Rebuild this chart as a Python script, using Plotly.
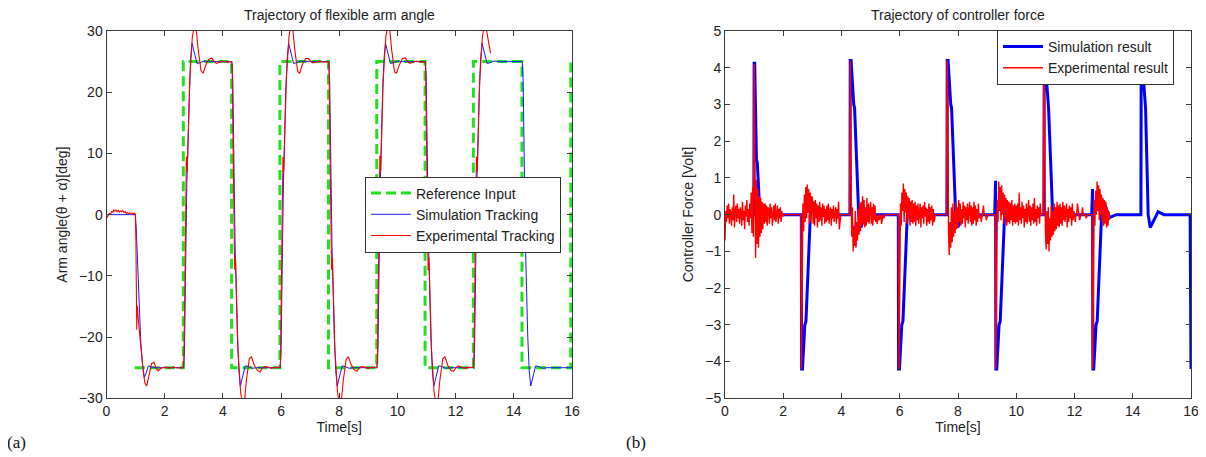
import plotly.graph_objects as go

# ---------------- LEFT PANEL: flexible arm angle [deg] ----------------
ref_time = [0.97, 2.64, 4.30, 5.96, 7.63, 9.29, 10.95, 12.61, 14.28, 15.96, 16.0]
ref_angle = [-25, 25, -25, 25, -25, 25, -25, 25, -25, 25, 25]

sim_time = [0.00, 0.99, 1.02, 1.10, 1.18, 1.24, 1.30, 1.37, 1.44, 1.55, 1.70,
            2.65, 2.68, 2.76, 2.84, 2.89, 2.94, 3.03, 3.11, 3.21, 3.35, 3.50,
            4.31, 4.34, 4.42, 4.50, 4.55, 4.60, 4.69, 4.77, 4.87, 5.01, 5.16,
            5.97, 6.00, 6.08, 6.16, 6.21, 6.26, 6.35, 6.43, 6.53, 6.67, 6.82,
            7.64, 7.67, 7.75, 7.83, 7.88, 7.93, 8.02, 8.10, 8.20, 8.34, 8.49,
            9.30, 9.33, 9.41, 9.49, 9.54, 9.59, 9.68, 9.76, 9.86, 10.00, 10.15,
            10.96, 10.99, 11.07, 11.15, 11.20, 11.25, 11.34, 11.42, 11.52, 11.66, 11.81,
            12.62, 12.65, 12.73, 12.81, 12.86, 12.91, 13.00, 13.08, 13.18, 13.32, 13.47,
            14.29, 14.32, 14.40, 14.48, 14.53, 14.58, 14.67, 14.75, 14.85, 14.99, 15.14,
            16.00]
sim_angle = [0.0, 0.0, -2.0, -13.0, -21.0, -24.5, -26.6, -25.8, -24.7, -24.9, -25.0,
             -25, -22, 5, 20, 25.5, 28, 26, 24.7, 24.8, 25.1, 25,
             25, 22, -5, -20, -25.5, -28, -26, -24.7, -24.8, -25.1, -25,
             -25, -22, 5, 20, 25.5, 28, 26, 24.7, 24.8, 25.1, 25,
             25, 22, -5, -20, -25.5, -28, -26, -24.7, -24.8, -25.1, -25,
             -25, -22, 5, 20, 25.5, 28, 26, 24.7, 24.8, 25.1, 25,
             25, 22, -5, -20, -25.5, -28, -26, -24.7, -24.8, -25.1, -25,
             -25, -22, 5, 20, 25.5, 28, 26, 24.7, 24.8, 25.1, 25,
             25, 22, -5, -20, -25.5, -28, -26, -24.7, -24.8, -25.1, -25,
             -25]

exp_time = [0.00, 0.03, 0.06, 0.10, 0.14, 0.18, 0.22, 0.25, 0.28, 0.32, 0.36, 0.40, 0.44,
            0.48, 0.52, 0.56, 0.60, 0.64, 0.68, 0.72, 0.76, 0.80, 0.84, 0.88, 0.92, 0.96, 0.99,
            1.01, 1.04, 1.05, 1.055, 1.06, 1.065, 1.07, 1.08, 1.10, 1.18, 1.26, 1.32, 1.38,
            1.45, 1.55, 1.63, 1.72, 1.78, 1.88, 2.00, 2.15, 2.30, 2.45, 2.63,
            2.66, 2.70, 2.74, 2.745, 2.75, 2.755, 2.76, 2.765, 2.77, 2.78, 2.86, 2.95, 3.02,
            3.08, 3.15, 3.25, 3.32, 3.42, 3.52, 3.62, 3.70, 3.78, 3.88, 4.00, 4.15, 4.30,
            4.32, 4.36, 4.40, 4.405, 4.41, 4.415, 4.42, 4.425, 4.43, 4.44, 4.52, 4.61, 4.68,
            4.74, 4.81, 4.91, 4.98, 5.08, 5.18, 5.28, 5.36, 5.44, 5.54, 5.66, 5.81, 5.96,
            5.98, 6.02, 6.06, 6.065, 6.07, 6.075, 6.08, 6.085, 6.09, 6.10, 6.18, 6.27, 6.34,
            6.40, 6.47, 6.57, 6.64, 6.74, 6.84, 6.94, 7.02, 7.10, 7.20, 7.32, 7.47, 7.63,
            7.65, 7.69, 7.73, 7.735, 7.74, 7.745, 7.75, 7.755, 7.76, 7.77, 7.85, 7.94, 8.01,
            8.07, 8.14, 8.24, 8.31, 8.41, 8.51, 8.61, 8.69, 8.77, 8.87, 8.99, 9.14, 9.29,
            9.31, 9.35, 9.39, 9.395, 9.40, 9.405, 9.41, 9.415, 9.42, 9.43, 9.51, 9.60, 9.67,
            9.73, 9.80, 9.90, 9.97, 10.07, 10.17, 10.27, 10.35, 10.43, 10.53, 10.65, 10.80, 10.95,
            10.97, 11.01, 11.05, 11.055, 11.06, 11.065, 11.07, 11.075, 11.08, 11.09, 11.17, 11.26, 11.33,
            11.39, 11.46, 11.56, 11.63, 11.73, 11.83, 11.93, 12.01, 12.09, 12.19, 12.31, 12.46, 12.61,
            12.63, 12.67, 12.71, 12.715, 12.72, 12.725, 12.73, 12.735, 12.74, 12.75, 12.83, 12.92, 12.99,
            13.05, 13.12, 13.20]
exp_angle = [-0.6, -0.4, -0.1, 0.2, 0.1, 0.5, 0.4, 0.8, 0.6, 0.75, 0.5, 0.7, 0.45,
             0.6, 0.5, 0.65, 0.35, 0.5, 0.2, 0.35, 0.15, 0.3, 0.2, 0.3, 0.1, 0.25, 0.1,
             -4.0, -18.8, -14.8, -17.5, -15.0, -17.2, -15.3, -16.5, -17.5, -22.0, -25.5, -27.5, -28.0,
             -26.5, -24.3, -24.1, -25.2, -25.5, -25.1, -24.9, -25.1, -24.9, -25.05, -25.0,
             -24, -10, 6.0, 9.5, 6.2, 9.0, 6.5, 8.8, 7.0, 8.0, 22, 29, 31,
             30.5, 27, 23.5, 23.1, 24.5, 25.4, 25.6, 25.0, 24.7, 24.9, 25.1, 24.9, 25.0,
             24, 10, -6.0, -9.0, -6.2, -8.8, -6.5, -8.5, -7.0, -8.0, -22, -29, -31,
             -30.5, -27, -23.5, -23.2, -24.6, -25.4, -25.7, -25.0, -24.8, -24.9, -25.1, -24.9, -25.0,
             -24, -10, 6.2, 9.4, 6.0, 9.1, 6.6, 8.7, 7.1, 8.1, 22, 29, 31.2,
             30.4, 27, 23.4, 23.1, 24.6, 25.5, 25.5, 25.0, 24.8, 24.9, 25.1, 24.9, 25.0,
             24, 10, -6.1, -9.0, -6.3, -8.7, -6.4, -8.6, -7.1, -8.0, -22, -29, -31,
             -30.6, -27, -23.6, -23.2, -24.5, -25.3, -25.6, -25.0, -24.8, -24.9, -25.1, -24.9, -25.0,
             -24, -10, 6.0, 9.6, 6.1, 9.0, 6.4, 8.9, 7.0, 8.0, 22, 29, 31,
             30.5, 27, 23.3, 23.1, 24.5, 25.5, 25.6, 25.0, 24.7, 24.9, 25.1, 24.9, 25.0,
             24, 10, -6.0, -9.1, -6.2, -8.8, -6.5, -8.4, -7.0, -8.1, -22, -29, -31,
             -30.5, -27, -23.5, -23.2, -24.6, -25.4, -25.6, -25.0, -24.7, -24.9, -25.1, -24.9, -25.0,
             -24, -10, 6.0, 9.5, 6.2, 9.0, 6.5, 8.8, 7.0, 8.0, 22, 29, 31,
             30.5, 28.5, 26.4]

# ---------------- RIGHT PANEL: controller force [Volt] ----------------
sim_force_time = [0.00, 0.99, 1.00, 1.02, 1.08, 1.11, 1.20, 1.26, 1.45, 1.60,
                  2.62, 2.63, 2.66, 2.74, 2.78, 2.93, 3.00, 3.21, 3.43,
                  4.29, 4.30, 4.33, 4.42, 4.45, 4.59, 4.66, 4.88, 5.10,
                  5.95, 5.96, 5.99, 6.07, 6.11, 6.26, 6.33, 6.54, 6.76,
                  7.62, 7.63, 7.66, 7.75, 7.78, 7.92, 7.99, 8.21, 8.43,
                  9.26, 9.27, 9.29, 9.30, 9.33, 9.41, 9.45, 9.60, 9.67, 9.88, 10.10,
                  10.95, 10.96, 10.99, 11.08, 11.11, 11.25, 11.32, 11.54, 11.76,
                  12.59, 12.60, 12.62, 12.63, 12.66, 12.74, 12.78, 12.93, 13.00, 13.21, 13.43,
                  14.28, 14.29, 14.32, 14.41, 14.44, 14.53, 14.60, 14.87, 15.07,
                  15.97, 15.99, 16.00]
sim_force = [0.0, 0.0, 4.12, 4.12, 1.5, 1.4, 0.0, -0.15, 0.03, 0.0,
             0.0, -4.2, -4.2, -3.0, -2.9, 0.0, 0.35, -0.08, 0.0,
             0.0, 4.2, 4.2, 3.0, 2.9, 0.0, -0.35, 0.08, 0.0,
             0.0, -4.2, -4.2, -3.0, -2.9, 0.0, 0.35, -0.08, 0.0,
             0.0, 4.2, 4.2, 3.0, 2.9, 0.0, -0.35, 0.08, 0.0,
             0.0, 0.92, 0.92, -4.2, -4.2, -3.0, -2.9, 0.0, 0.35, -0.08, 0.0,
             0.0, 4.2, 4.2, 3.0, 2.9, 0.0, -0.35, 0.08, 0.0,
             0.0, 0.7, 0.7, -4.2, -4.2, -3.0, -2.9, 0.0, 0.35, -0.08, 0.0,
             0.0, 4.2, 4.2, 3.0, 2.9, 0.0, -0.35, 0.08, 0.0,
             0.0, -4.2, -4.2]

# measured controller force, sampled every EXP_DT seconds, in half-second blocks
EXP_DT = 0.025
exp_force_block_start = [0.0, 0.5, 1.0, 1.5, 2.0, 2.5, 3.0, 3.5, 4.0, 4.5, 5.0, 5.5, 6.0,
                         6.5, 7.0, 7.5, 8.0, 8.5, 9.0, 9.5, 10.0, 10.5, 11.0, 11.5, 12.0,
                         12.5, 13.0]
exp_force_blocks = [
    [-0.70, 0.10, -0.20, 0.25, -0.10, 0.30, -0.25, 0.15, 0.05, -0.30, 0.20, -0.15, 0.55, -0.35, 0.10, 0.25, -0.20, 0.30, -0.10, 0.15],
    [-0.25, 0.20, 0.05, -0.30, 0.35, -0.15, 0.10, -0.40, 0.25, -0.05, 0.40, -0.20, 0.15, -0.30, 0.30, -0.10, 0.60, -0.50, 0.75, -0.60],
    [4.10, 1.80, -1.18, 0.95, -0.80, 0.70, -0.90, 0.50, -0.60, 0.45, -0.50, 0.35, -0.40, 0.30, -0.25, 0.30, -0.20, 0.25, -0.30, 0.20],
    [0.15, -0.25, 0.30, -0.10, 0.20, -0.30, 0.10, 0.25, -0.15, 0.30, -0.20, 0.05, 0.25, -0.25, 0.15, -0.10, 0.20, -0.20, 0.10, -0.05],
    [0.0, 0.0, 0.0, 0.0, 0.0, 0.0, 0.0, 0.0, 0.0, 0.0, 0.0, 0.0, 0.0, 0.0, 0.0, 0.0, 0.0, 0.0, 0.0, 0.0],
    [0.0, 0.0, 0.0, 0.0, 0.0, -4.20, -1.60, 0.30, -0.45, 0.55, -0.20, 0.75, -0.10, 0.82, 0.05, 0.70, -0.25, 0.60, -0.20, 0.50],
    [0.45, -0.25, 0.35, -0.30, 0.40, -0.10, 0.30, -0.35, 0.25, -0.20, 0.35, -0.15, 0.20, -0.30, 0.30, -0.05, 0.25, -0.25, 0.15, -0.20],
    [0.25, -0.15, 0.30, -0.25, 0.10, 0.20, -0.30, 0.15, -0.10, 0.25, -0.20, 0.05, 0.20, -0.25, 0.15, -0.10, 0.35, -0.40, 0.0, 0.0],
    [0.0, 0.0, 0.0, 0.0, 0.0, 0.0, 0.0, 0.0, 0.0, 0.0, 0.0, 0.0, 4.20, 2.00, -0.60, 0.20, -1.00, -0.30, -0.85, 0.10],
    [-0.90, -0.20, -0.70, 0.15, -0.55, 0.30, -0.45, 0.35, -0.30, 0.50, -0.25, 0.40, -0.35, 0.20, -0.30, 0.45, -0.20, 0.30, -0.25, 0.15],
    [0.35, -0.25, 0.20, -0.30, 0.30, -0.15, 0.25, -0.20, 0.0, -0.25, 0.0, 0.0, -0.15, 0.0, 0.0, -0.25, 0.0, 0.0, -0.10, 0.0],
    [0.0, 0.0, 0.0, 0.0, 0.0, 0.0, 0.0, 0.0, 0.0, 0.0, 0.0, 0.0, 0.0, 0.0, 0.0, 0.0, 0.0, 0.0, 0.0, -4.20],
    [-1.80, 0.30, -0.30, 0.60, 0.10, 0.85, -0.20, 0.70, 0.05, 0.60, -0.25, 0.50, -0.10, 0.45, -0.30, 0.35, -0.20, 0.40, -0.25, 0.30],
    [-0.20, 0.35, -0.30, 0.25, -0.15, 0.30, -0.25, 0.10, 0.30, -0.35, 0.20, -0.10, 0.25, -0.25, 0.35, -0.05, 0.20, -0.30, 0.15, -0.20],
    [0.30, -0.25, 0.20, -0.15, 0.25, -0.30, 0.15, -0.20, 0.0, 0.0, 0.0, 0.0, 0.0, 0.0, 0.0, 0.0, 0.0, 0.0, 0.0, 0.0],
    [0.0, 0.0, 0.0, 0.0, 0.0, 4.20, 3.30, -0.50, -1.10, -0.20, -0.90, 0.20, -0.75, 0.30, -0.60, 0.10, -0.50, 0.35, -0.40, 0.20],
    [-0.35, 0.40, -0.20, 0.30, -0.30, 0.15, -0.25, 0.35, -0.10, 0.25, -0.35, 0.20, -0.15, 0.30, -0.25, 0.10, 0.35, -0.20, 0.25, -0.30],
    [0.20, -0.25, 0.35, -0.15, 0.25, -0.30, 0.15, -0.20, 0.30, -0.10, 0.0, 0.0, -0.20, 0.0, 0.0, 0.25, 0.0, 0.0, 0.0, -0.15],
    [0.0, 0.0, 0.0, 0.0, 0.0, 0.0, 0.0, 0.0, 0.0, 0.0, 0.0, 0.0, -4.20, -1.50, 0.40, -0.20, 0.90, 0.10, 0.75, -0.15],
    [0.80, 0.0, 0.60, -0.25, 0.55, -0.10, 0.45, -0.30, 0.40, -0.20, 0.35, -0.25, 0.30, -0.15, 0.40, -0.30, 0.25, -0.20, 0.30, -0.25],
    [0.25, -0.20, 0.30, -0.30, 0.60, -0.15, 0.20, -0.25, 0.35, -0.10, 0.25, -0.35, 0.15, -0.20, 0.30, -0.25, 0.10, 0.40, -0.20, 0.25],
    [-0.30, 0.20, -0.15, 0.30, -0.25, 0.45, -0.20, 0.15, -0.30, 0.25, -0.10, 0.20, -0.25, 0.30, 0.0, 0.0, 0.0, 0.0, 4.20, 2.80],
    [-0.40, -0.95, 0.10, -0.80, 0.20, -1.00, -0.10, -0.70, 0.25, -0.60, 0.10, -0.55, 0.30, -0.45, 0.20, -0.40, 0.35, -0.30, 0.25, -0.35],
    [0.30, -0.25, 0.20, -0.30, 0.35, -0.15, 0.25, -0.20, 0.10, 0.30, -0.35, 0.15, -0.20, 0.25, -0.10, 0.20, -0.30, 0.30, -0.15, 0.10],
    [0.0, -0.20, 0.0, 0.0, 0.30, 0.0, 0.0, -0.15, 0.0, 0.0, 0.0, 0.20, 0.0, 0.0, 0.0, 0.0, -0.10, 0.0, 0.0, 0.0],
    [0.0, 0.0, 0.0, 0.0, 0.0, -4.20, -1.20, 0.40, -0.30, 0.65, 0.0, 0.90, 0.10, 0.80, -0.15, 0.70, 0.0, 0.55, -0.20, 0.45],
    [-0.30, 0.40, -0.25, 0.35, -0.35, 0.20, -0.30, 0.10, -0.15],
]

exp_force_time, exp_force = [], []
for start, vals in zip(exp_force_block_start, exp_force_blocks):
    for i, v in enumerate(vals):
        exp_force_time.append(round(start + i * EXP_DT, 4))
        exp_force.append(v)

x_ticks = [0, 2, 4, 6, 8, 10, 12, 14, 16]

# ---------------- figure ----------------
# the page body keeps the browser's default 8 px margin, so the figure is
# made 8 px smaller than the window and positions are measured from there
OFF = 8
W, H = 1206 - OFF, 457 - OFF
FONT = "Arial, Liberation Sans, sans-serif"
TXT = "#222222"

fig = go.Figure()
fig.add_trace(go.Scatter(x=ref_time, y=ref_angle, mode="lines", name="Reference Input",
                         line=dict(color="#22e022", width=3, dash="10px,5px", shape="hv"),
                         xaxis="x", yaxis="y", legend="legend"))
fig.add_trace(go.Scatter(x=sim_time, y=sim_angle, mode="lines", name="Simulation Tracking",
                         line=dict(color="#1a1aff", width=1),
                         xaxis="x", yaxis="y", legend="legend"))
fig.add_trace(go.Scatter(x=exp_time, y=exp_angle, mode="lines", name="Experimental Tracking",
                         line=dict(color="#ff0000", width=1.1),
                         xaxis="x", yaxis="y", legend="legend"))
fig.add_trace(go.Scatter(x=sim_force_time, y=sim_force, mode="lines", name="Simulation result",
                         line=dict(color="#0000ff", width=3),
                         xaxis="x2", yaxis="y2", legend="legend2"))
fig.add_trace(go.Scatter(x=exp_force_time, y=exp_force, mode="lines", name="Experimental result",
                         line=dict(color="#ff0000", width=1.4),
                         xaxis="x2", yaxis="y2", legend="legend2"))


def px_x(p):
    return (p - OFF) / W


def px_y(p):
    return 1 - (p - OFF) / H


ydom = [px_y(398.3), px_y(31)]
axis_common = dict(showline=True, linecolor="#3a3a3a", linewidth=1, mirror="ticks",
                   ticks="inside", ticklen=5, tickcolor="#3a3a3a", showgrid=False,
                   zeroline=False, automargin=False,
                   tickfont=dict(family=FONT, size=14, color=TXT))

fig.update_layout(
    template="none",
    width=W, height=H, margin=dict(l=0, r=0, t=0, b=0, pad=0),
    paper_bgcolor="white", plot_bgcolor="white",
    font=dict(family=FONT, size=14, color=TXT),
    xaxis=dict(domain=[px_x(106.5), px_x(572)], range=[0, 16], tickvals=x_ticks, anchor="y",
               title=dict(text="Time[s]", standoff=4, font=dict(size=14)), **axis_common),
    yaxis=dict(domain=ydom, range=[-30, 30], tickvals=[-30, -20, -10, 0, 10, 20, 30], anchor="x",
               title=dict(text="Arm angle(θ + α)[deg]", standoff=8, font=dict(size=14)), **axis_common),
    xaxis2=dict(domain=[px_x(725), px_x(1191)], range=[0, 16], tickvals=x_ticks, anchor="y2",
                title=dict(text="Time[s]", standoff=4, font=dict(size=14)), **axis_common),
    yaxis2=dict(domain=ydom, range=[-5, 5], dtick=1, anchor="x2",
                title=dict(text="Controller Force [Volt]", standoff=8, font=dict(size=14)), **axis_common),
    legend=dict(x=px_x(365), y=px_y(214.5), xanchor="left", yanchor="middle",
                bgcolor="white", bordercolor="#333333", borderwidth=1,
                font=dict(family=FONT, size=14, color=TXT), tracegroupgap=0, itemwidth=40),
    legend2=dict(x=px_x(997), y=px_y(57.5), xanchor="left", yanchor="middle",
                 bgcolor="white", bordercolor="#333333", borderwidth=1,
                 font=dict(family=FONT, size=14, color=TXT), tracegroupgap=0, itemwidth=40),
    showlegend=True,
    annotations=[
        dict(text="Trajectory of flexible arm angle", x=px_x(339), y=px_y(15), xref="paper", yref="paper",
             showarrow=False, font=dict(family=FONT, size=14, color=TXT), xanchor="center", yanchor="middle"),
        dict(text="Trajectory of controller force", x=px_x(958), y=px_y(15), xref="paper", yref="paper",
             showarrow=False, font=dict(family=FONT, size=14, color=TXT), xanchor="center", yanchor="middle"),
        dict(text="(a)", x=px_x(5), y=px_y(442), xref="paper", yref="paper", showarrow=False,
             font=dict(family="Liberation Serif, Times New Roman, serif", size=17, color="#111111"),
             xanchor="left", yanchor="middle"),
        dict(text="(b)", x=px_x(624), y=px_y(442), xref="paper", yref="paper", showarrow=False,
             font=dict(family="Liberation Serif, Times New Roman, serif", size=17, color="#111111"),
             xanchor="left", yanchor="middle"),
    ],
)

fig.write_html("out.html")
